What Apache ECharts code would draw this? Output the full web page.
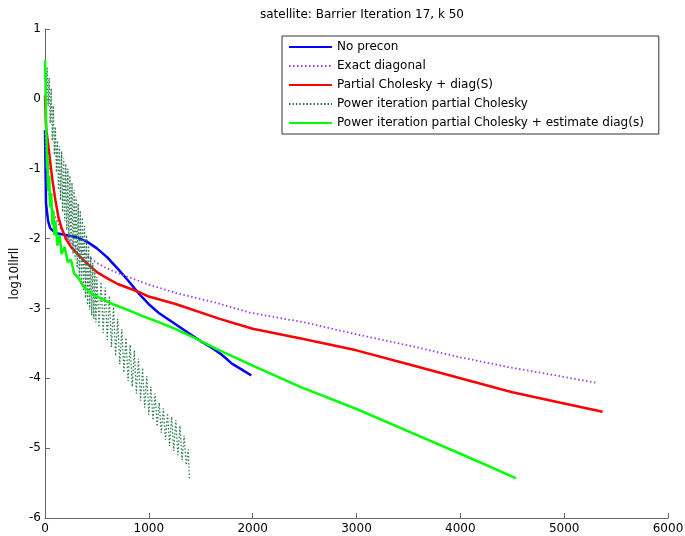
<!DOCTYPE html>
<html>
<head>
<meta charset="utf-8">
<script src="https://cdn.jsdelivr.net/npm/echarts@6/dist/echarts.min.js"></script>
<style>
html,body{margin:0;padding:0;background:#fff;}
#chart{width:685px;height:536px;}
</style>
</head>
<body>
<div id="chart"></div>
<script>
var titleText = 'satellite: Barrier Iteration 17, k 50';
var yName = 'log10llrll';
var seriesNames = ['No precon', 'Exact diagonal', 'Partial Cholesky + diag(S)', 'Power iteration partial Cholesky', 'Power iteration partial Cholesky + estimate diag(s)'];

var noPreconX = [0, 10, 30, 50, 100, 200, 300, 400, 500, 600, 700, 800, 900, 1000, 1100, 1200, 1300, 1400, 1500, 1600, 1700, 1800, 1900, 1987];
var noPreconY = [-0.45, -1.5, -1.75, -1.85, -1.92, -1.95, -1.98, -2.04, -2.14, -2.27, -2.43, -2.6, -2.78, -2.94, -3.07, -3.17, -3.27, -3.37, -3.47, -3.56, -3.66, -3.79, -3.88, -3.96];

var exactDiagX = [0, 20, 50, 100, 150, 200, 300, 400, 500, 600, 783, 1000, 1265, 1650, 1971, 2500, 2935, 3500, 4000, 4500, 5000, 5325];
var exactDiagY = [-0.5, -1.2, -1.5, -1.7, -1.85, -1.97, -2.13, -2.24, -2.35, -2.43, -2.54, -2.66, -2.78, -2.92, -3.06, -3.2, -3.35, -3.53, -3.7, -3.85, -3.98, -4.07];

var partialCholX = [0, 10, 30, 50, 70, 100, 130, 160, 200, 250, 300, 400, 500, 600, 700, 880, 1000, 1265, 1682, 2000, 2500, 3000, 3500, 4000, 4500, 5000, 5370];
var partialCholY = [0.05, -0.4, -0.65, -0.9, -1.15, -1.45, -1.7, -1.85, -2.0, -2.12, -2.2, -2.35, -2.48, -2.57, -2.65, -2.75, -2.83, -2.94, -3.15, -3.29, -3.44, -3.6, -3.8, -4.0, -4.2, -4.36, -4.48];

var powerX = [0, 10, 20, 30, 40, 50, 60, 70, 80, 90, 100, 110, 120, 130, 140, 150, 160, 170, 180, 190, 200, 210, 220, 230, 240, 250, 260, 270, 280, 290, 300, 310, 320, 330, 340, 350, 360, 370, 380, 390, 400, 410, 420, 430, 440, 450, 460, 470, 480, 490, 500, 520, 540, 560, 580, 600, 620, 640, 660, 680, 700, 720, 740, 760, 780, 800, 820, 840, 860, 880, 900, 920, 940, 960, 980, 1000, 1020, 1040, 1060, 1080, 1100, 1120, 1140, 1160, 1180, 1200, 1220, 1240, 1260, 1280, 1300, 1320, 1340, 1360, 1380, 1390];
var powerY = [0.55, 0.1, 0.45, -0.1, 0.3, -0.35, 0.15, -0.6, -0.1, -0.8, -0.4, -1.05, -0.6, -1.3, -0.68, -1.45, -0.75, -1.62, -0.85, -1.75, -0.93, -1.88, -1.0, -2.02, -1.1, -2.12, -1.2, -2.22, -1.3, -2.3, -1.4, -2.42, -1.5, -2.55, -1.6, -2.65, -1.7, -2.75, -1.82, -2.85, -1.95, -2.95, -2.1, -3.02, -2.25, -3.1, -2.35, -3.15, -2.45, -3.2, -2.55, -3.27, -2.62, -3.35, -2.7, -3.45, -2.82, -3.55, -2.98, -3.68, -3.15, -3.8, -3.3, -3.92, -3.42, -4.04, -3.52, -4.12, -3.6, -4.22, -3.72, -4.32, -3.85, -4.42, -3.97, -4.52, -4.12, -4.6, -4.22, -4.69, -4.35, -4.78, -4.43, -4.88, -4.5, -4.97, -4.55, -5.04, -4.6, -5.1, -4.68, -5.17, -4.82, -5.24, -5.02, -5.43];

var powerEstX = [0, 5, 10, 15, 20, 25, 30, 40, 50, 60, 70, 80, 90, 100, 120, 140, 160, 190, 220, 250, 280, 320, 360, 400, 458, 540, 654, 760, 860, 940, 1100, 1265, 1450, 1650, 2000, 2453, 3000, 3500, 4000, 4535];
var powerEstY = [0.55, 0.2, -0.3, -0.6, -1.0, -0.8, -1.3, -1.1, -1.55, -1.35, -1.8, -1.6, -1.95, -1.75, -2.1, -1.95, -2.22, -2.12, -2.34, -2.3, -2.5, -2.56, -2.66, -2.73, -2.8, -2.86, -2.94, -3.0, -3.06, -3.11, -3.2, -3.3, -3.43, -3.58, -3.82, -4.12, -4.44, -4.76, -5.08, -5.43];

var xTicks = {min: 0, max: 6000, interval: 1000};
var yTicks = {min: -6, max: 1, interval: 1};

function pairs(xs, ys) {
  var out = [];
  for (var i = 0; i < xs.length; i++) out.push([xs[i], ys[i]]);
  return out;
}

var FONT = '"DejaVu Sans", "Liberation Sans", Arial, sans-serif';
var chart = echarts.init(document.getElementById('chart'), null, {renderer: 'canvas'});

var axisCommon = {
  axisLine: {show: true, onZero: false, lineStyle: {color: '#666', width: 1}},
  axisTick: {show: true, inside: true, length: 5, lineStyle: {color: '#666'}},
  splitLine: {show: false}
};

function lineSeries(name, data, color, type, width) {
  return {
    name: name,
    type: 'line',
    data: data,
    symbol: 'none',
    showSymbol: false,
    smooth: false,
    lineStyle: {color: color, width: width, type: type},
    itemStyle: {color: color},
    emphasis: {disabled: true},
    animation: false
  };
}

chart.setOption({
  animation: false,
  backgroundColor: '#fff',
  title: {
    text: titleText,
    left: 357,
    top: 4,
    textAlign: 'center',
    textStyle: {fontSize: 12, fontWeight: 'normal', color: '#000', fontFamily: FONT}
  },
  legend: {
    orient: 'vertical',
    left: 282,
    top: 36,
    padding: [4, 15, 4, 6],
    itemGap: 5,
    itemWidth: 43,
    itemHeight: 14,
    borderColor: '#333',
    borderWidth: 1,
    backgroundColor: '#fff',
    itemStyle: {opacity: 0, borderWidth: 0},
    textStyle: {fontSize: 12, color: '#000', fontFamily: FONT, lineHeight: 14},
    data: seriesNames
  },
  grid: {left: 45, right: 17, top: 29, bottom: 18, containLabel: false, outerBoundsMode: 'none'},
  xAxis: Object.assign({
    type: 'value',
    min: xTicks.min,
    max: xTicks.max,
    interval: xTicks.interval
  }, axisCommon, {axisLabel: {color: '#000', fontSize: 12, fontFamily: FONT, margin: 5, formatter: function (v) { return String(v); }}}),
  yAxis: Object.assign({
    type: 'value',
    min: yTicks.min,
    max: yTicks.max,
    interval: yTicks.interval,
    name: yName,
    nameLocation: 'middle',
    nameGap: 24,
    nameMoveOverlap: false,
    nameTextStyle: {fontSize: 12, color: '#000', fontFamily: FONT}
  }, axisCommon, {axisLabel: {color: '#000', fontSize: 12, fontFamily: FONT, margin: 4, formatter: function (v) { return String(v); }}}),
  series: [
    lineSeries(seriesNames[0], pairs(noPreconX, noPreconY), '#0000ff', 'solid', 2.5),
    lineSeries(seriesNames[1], pairs(exactDiagX, exactDiagY), '#9a3cf0', [1.5, 2.5], 1.8),
    lineSeries(seriesNames[2], pairs(partialCholX, partialCholY), '#ff0000', 'solid', 2.5),
    lineSeries(seriesNames[3], pairs(powerX, powerY), '#2e7d50', [1.5, 2], 1.3),
    lineSeries(seriesNames[4], pairs(powerEstX, powerEstY), '#00ff00', 'solid', 2.5)
  ]
});
</script>
</body>
</html>
